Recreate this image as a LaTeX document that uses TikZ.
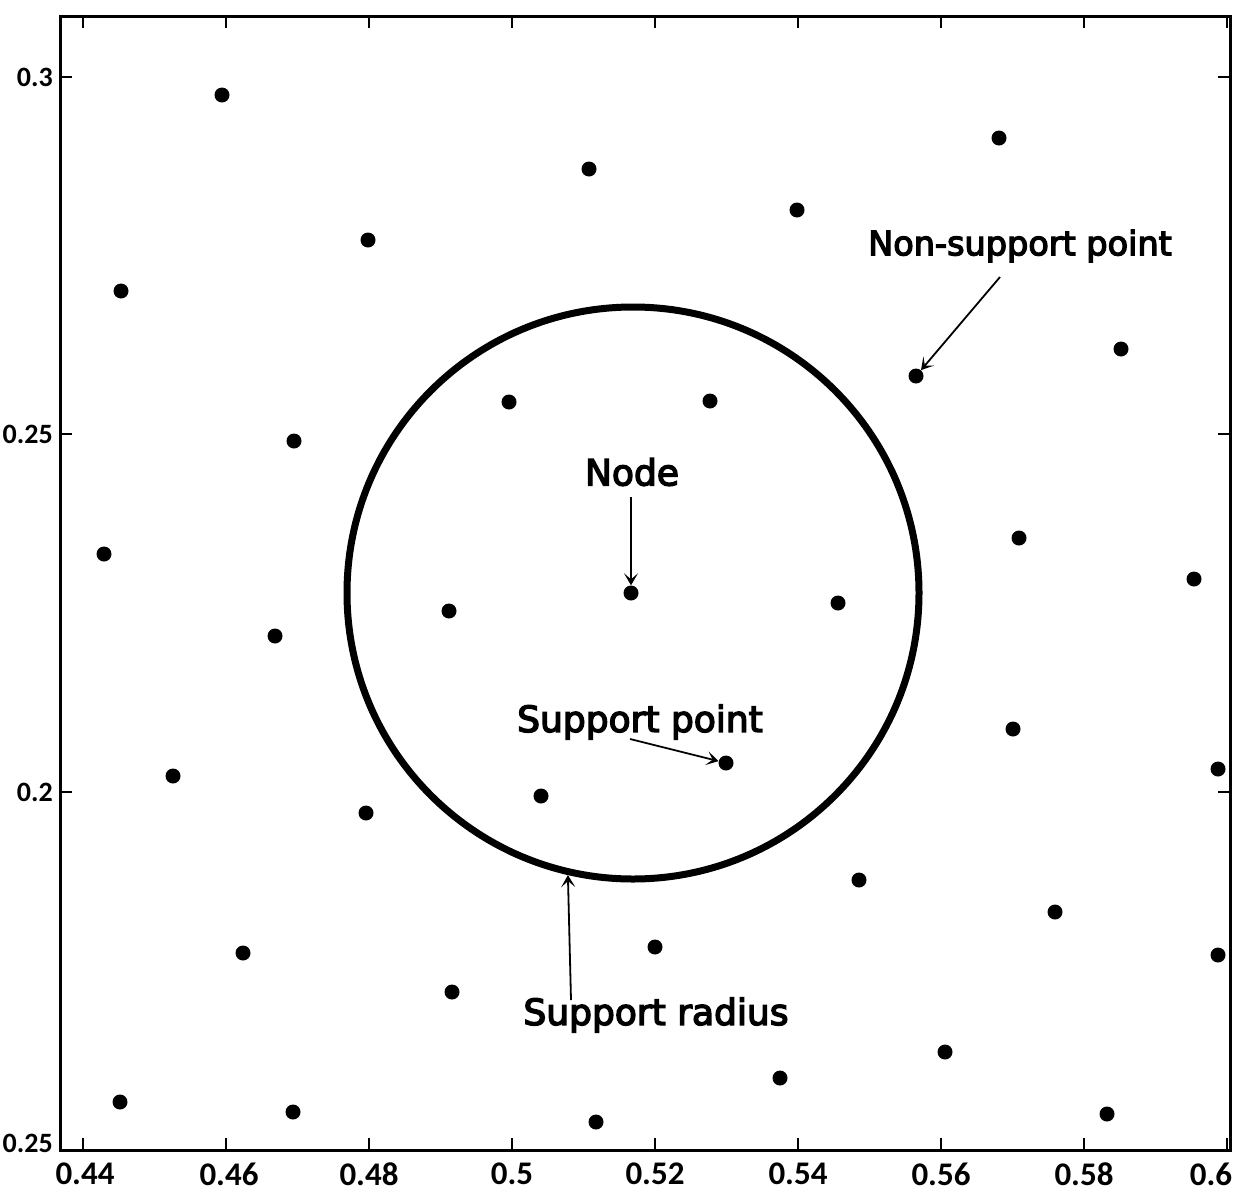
\documentclass[tikz,border=0pt]{standalone}
\usepackage{fontspec}
\setmainfont{DejaVu Sans}
\newfontfamily\annotfont[RawFeature={embolden=4}]{DejaVu Sans}
\newfontfamily\axisfont{Carlito}
\usetikzlibrary{arrows.meta,calc}
\begin{document}
\begin{tikzpicture}[x=1pt,y=-1pt,
  dot/.style={circle,fill=black,inner sep=0pt,minimum size=15pt},
  frame/.style={line width=3pt,line cap=rect},
  tick/.style={line width=2.5pt},
  xlab/.style={font=\axisfont\bfseries\fontsize{33}{35}\selectfont,inner sep=0pt},
  ylab/.style={font=\axisfont\bfseries\fontsize{28}{30}\selectfont,inner sep=0pt,anchor=east},
  annot/.style={font=\annotfont\fontsize{36}{38}\selectfont,inner sep=0pt},
  pointer/.style={line width=1.8pt,-{Stealth[length=12pt,width=14pt,inset=6pt]}}
]
\useasboundingbox (0,0) rectangle (1250,1202);
\fill[white] (0,0) rectangle (1250,1202);
% frame
\draw[frame] (60,16) rectangle (1230,1150);
% ticks
\foreach \xx in {83,226,369,512,655,798,941,1084,1227}{
  \draw[tick] (\xx,1150) -- (\xx,1138);
  \draw[tick] (\xx,16) -- (\xx,28);
}
\foreach \yy in {77,434,792}{
  \draw[tick] (60,\yy) -- (72,\yy);
  \draw[tick] (1230,\yy) -- (1218,\yy);
}
% x labels
\node[xlab] (x1) at (85,1174) {0.44};
\node[xlab] (x2) at (229,1174) {0.46};
\node[xlab] (x3) at (369,1174) {0.48};
\node[xlab] (x4) at (512,1174) {0.5};
\node[xlab] (x5) at (655,1174) {0.52};
\node[xlab] (x6) at (798,1174) {0.54};
\node[xlab] (x7) at (941,1174) {0.56};
\node[xlab] (x8) at (1084,1174) {0.58};
\node[xlab] (x9) at (1211,1174) {0.6};
% y labels
\node[ylab] (y1) at (53,77) {0.3};
\node[ylab] (y2) at (53,434) {0.25};
\node[ylab] (y3) at (53,792) {0.2};
\node[ylab] (y4) at (53,1143) {0.25};
% points
\node[dot] (p1) at (222,95) {};
\node[dot] (p2) at (589,169) {};
\node[dot] (p3) at (999,138) {};
\node[dot] (p4) at (797,210) {};
\node[dot] (p5) at (368,240) {};
\node[dot] (p6) at (121,291) {};
\node[dot] (p7) at (916,376) {};
\node[dot] (p8) at (1121,349) {};
\node[dot] (p9) at (509,402) {};
\node[dot] (p10) at (710,401) {};
\node[dot] (p11) at (294,441) {};
\node[dot] (p12) at (104,554) {};
\node[dot] (p13) at (1019,538) {};
\node[dot] (p14) at (631,593) {};
\node[dot] (p15) at (449,611) {};
\node[dot] (p16) at (838,603) {};
\node[dot] (p17) at (275,636) {};
\node[dot] (p18) at (1194,579) {};
\node[dot] (p19) at (726,763) {};
\node[dot] (p20) at (541,796) {};
\node[dot] (p21) at (1013,729) {};
\node[dot] (p22) at (173,776) {};
\node[dot] (p23) at (366,813) {};
\node[dot] (p24) at (1218,769) {};
\node[dot] (p25) at (859,880) {};
\node[dot] (p26) at (1055,912) {};
\node[dot] (p27) at (655,947) {};
\node[dot] (p28) at (243,953) {};
\node[dot] (p29) at (1218,955) {};
\node[dot] (p30) at (452,992) {};
\node[dot] (p31) at (945,1052) {};
\node[dot] (p32) at (780,1078) {};
\node[dot] (p33) at (120,1102) {};
\node[dot] (p34) at (293,1112) {};
\node[dot] (p35) at (596,1122) {};
\node[dot] (p36) at (1107,1114) {};
% support circle
\node[circle,draw,line width=7pt,minimum size=572pt,inner sep=0pt] (sr) at (633,593) {};
% labels
\node[annot] (lnode) at (632,472) {Node};
\node[annot,font=\annotfont\fontsize{33.5}{36}\selectfont] (lns) at (1020,246) {Non-support point};
\node[annot] (lsp) at (640,722) {Support point};
\node[annot] (lsr) at (656,1015) {Support radius};
% arrows
\coordinate (cnode) at (631,497);
\coordinate (cns) at (1000,277);
\coordinate (csp) at (630,739);
\coordinate (csr) at (571,1000);
\draw[pointer] (cnode) -- (p14);
\draw[pointer] (cns) -- (p7);
\draw[pointer] (csp) -- (p19);
\draw[pointer] (csr) -- (sr.257.7);
\end{tikzpicture}
\end{document}
